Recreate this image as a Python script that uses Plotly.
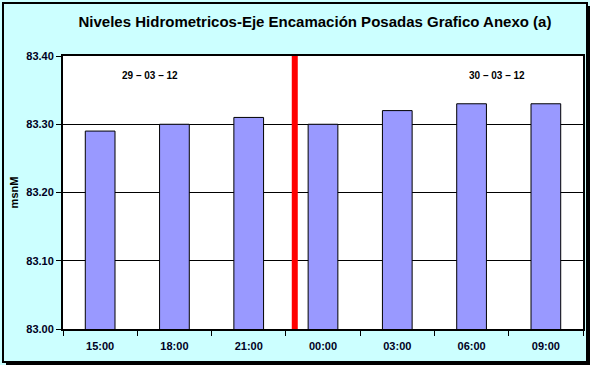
import plotly.graph_objects as go

categories = ["15:00", "18:00", "21:00", "00:00", "03:00", "06:00", "09:00"]
levels = [83.29, 83.30, 83.31, 83.30, 83.32, 83.33, 83.33]
y_ticks = [83.00, 83.10, 83.20, 83.30, 83.40]
date_labels = ["29 – 03 – 12", "30 – 03 – 12"]
date_label_x = [0.67, 5.34]
date_label_y = 83.372
day_change_x = 2.62

W, H = 594, 368
L, R, T, B = 63, 11, 56, 39
PW, PH = W - L - R, H - T - B

def px(x):
    return (x - L) / PW

def py(y):
    return (H - B - y) / PH

fig = go.Figure()
fig.add_trace(go.Bar(
    x=categories, y=levels, width=0.4,
    marker=dict(color="#9999FF", line=dict(color="black", width=1)),
))

fig.update_layout(
    width=W, height=H,
    margin=dict(l=L, r=R, t=T, b=B, autoexpand=False),
    paper_bgcolor="#CCFFFF",
    plot_bgcolor="white",
    showlegend=False,
    font=dict(family="Liberation Sans, Arial", color="black"),
    title=dict(text="Niveles Hidrometricos-Eje Encamación Posadas Grafico Anexo (a)",
               x=315 / W, xanchor="center", y=1 - 22 / H, yanchor="middle",
               font=dict(size=15, weight="bold", color="black", family="Liberation Sans, Arial")),
)
fig.update_xaxes(
    type="category", tickson="boundaries", ticks="outside", ticklen=5, tickcolor="black",
    showline=True, linecolor="black", linewidth=2, mirror=True,
    tickfont=dict(size=11, weight="bold", color="#000022"), ticklabelstandoff=6,
    showgrid=False, range=[-0.5, 6.5], automargin=False,
)
fig.update_yaxes(
    range=[83.0, 83.4], tickvals=y_ticks, tickformat=".2f",
    ticks="outside", ticklen=5, tickcolor="black",
    showline=True, linecolor="black", linewidth=2, mirror=True,
    showgrid=True, gridcolor="black", gridwidth=1,
    tickfont=dict(size=11, weight="bold", color="#000022"),
    title=dict(text="msnM", font=dict(size=11, weight="bold", color="black"), standoff=5),
    zeroline=False, automargin=False,
)

for txt, xv in zip(date_labels, date_label_x):
    fig.add_annotation(x=xv, y=date_label_y, xref="x", yref="y", text=txt, showarrow=False,
                       font=dict(size=10, weight="bold", color="black"))

fig.add_shape(type="line", xref="x", yref="y", x0=day_change_x, x1=day_change_x,
              y0=83.0, y1=83.4, line=dict(color="red", width=6), layer="above")

# outer frame
fig.add_shape(type="rect", xref="paper", yref="paper", x0=px(3), x1=px(587), y0=py(3), y1=py(362),
              line=dict(color="black", width=2), layer="below")
fig.add_shape(type="line", xref="paper", yref="paper", x0=px(588.5), x1=px(588.5), y0=py(6), y1=py(364),
              line=dict(color="black", width=3), layer="above")
fig.add_shape(type="line", xref="paper", yref="paper", x0=px(6), x1=px(590), y0=py(363.5), y1=py(363.5),
              line=dict(color="black", width=3), layer="above")
fig.add_shape(type="rect", xref="paper", yref="paper", x0=px(590), x1=px(600), y0=py(-5), y1=py(375),
              line=dict(width=0), fillcolor="white", layer="above")
fig.add_shape(type="rect", xref="paper", yref="paper", x0=px(-5), x1=px(600), y0=py(365), y1=py(375),
              line=dict(width=0), fillcolor="white", layer="above")

fig.write_html("out.html", config={"displayModeBar": False},
               post_script="document.body.style.margin='0';")
